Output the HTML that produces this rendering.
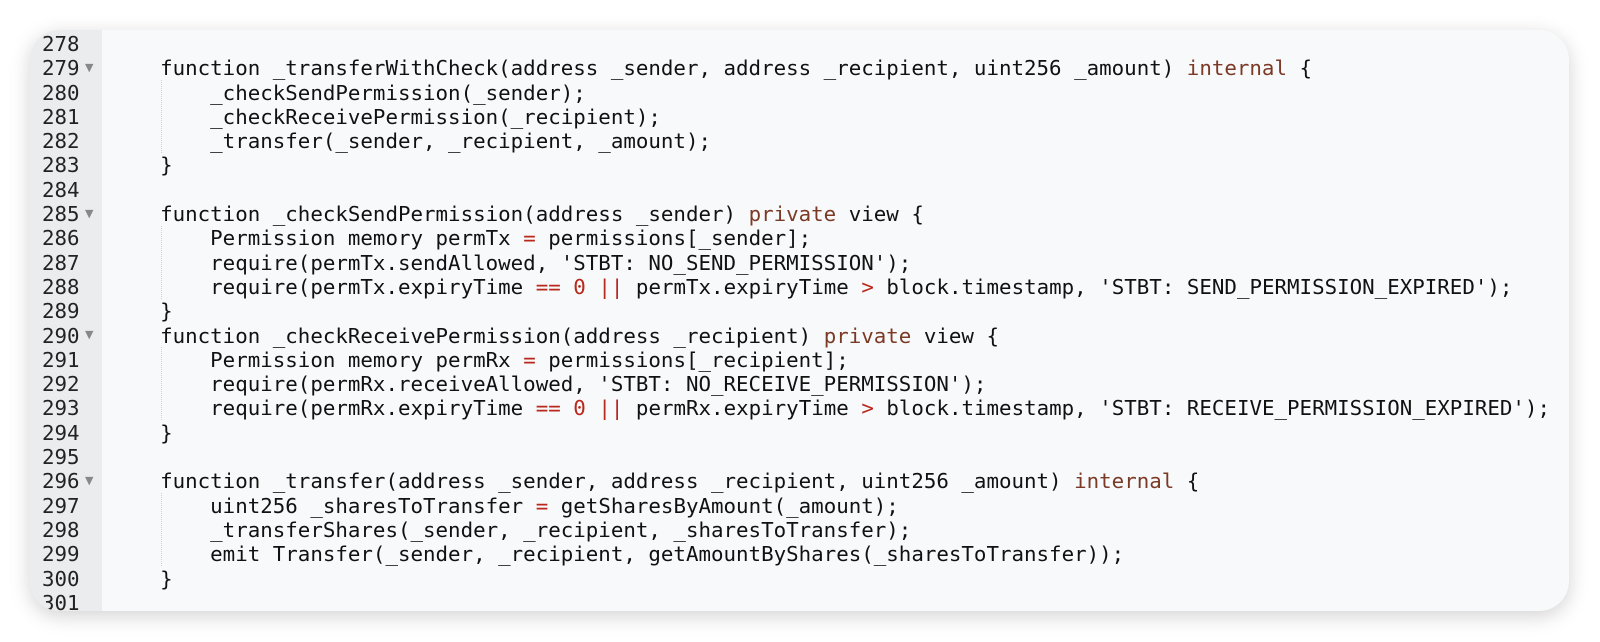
<!DOCTYPE html>
<html><head><meta charset="utf-8"><style>
html,body{margin:0;padding:0;background:#fff;width:1600px;height:642px;overflow:hidden}
.card{position:absolute;left:30px;top:30px;width:1539px;height:581px;border-radius:30px;background:#f8f9fa;overflow:hidden;box-shadow:0 5px 20px rgba(0,0,0,0.18)}
.gut{position:absolute;left:0;top:0;width:72px;height:100%;background:#ebecee}
.ln,.cd{position:absolute;font-family:"DejaVu Sans Mono",monospace;font-size:20.8px;line-height:24.3px;white-space:pre;color:#111}
.ln{left:12px;top:2px;color:#222}
.cd{left:80px;top:2px}
.k{color:#7b3a26}.r{color:#b8281c}
.f{color:#888;font-size:11px;position:absolute;left:55px;font-family:"DejaVu Sans",sans-serif}
.g{position:absolute;left:131px;width:0;border-left:1px dotted #d6d0c0}
</style></head><body>
<div class="card">
<div class="gut"></div>
<div class="ln">278
279
280
281
282
283
284
285
286
287
288
289
290
291
292
293
294
295
296
297
298
299
300
301</div>
<span class="f" style="top:31px">▼</span>
<span class="f" style="top:177px">▼</span>
<span class="f" style="top:298px">▼</span>
<span class="f" style="top:444px">▼</span>
<div class="g" style="top:50px;height:73px"></div>
<div class="g" style="top:196px;height:73px"></div>
<div class="g" style="top:317px;height:73px"></div>
<div class="g" style="top:463px;height:73px"></div>
<div class="cd">
    function _transferWithCheck(address _sender, address _recipient, uint256 _amount) <span class="k">internal</span> {
        _checkSendPermission(_sender);
        _checkReceivePermission(_recipient);
        _transfer(_sender, _recipient, _amount);
    }

    function _checkSendPermission(address _sender) <span class="k">private</span> view {
        Permission memory permTx <span class="r">=</span> permissions[_sender];
        require(permTx.sendAllowed, 'STBT: NO_SEND_PERMISSION');
        require(permTx.expiryTime <span class="r">==</span> <span class="r">0</span> <span class="r">||</span> permTx.expiryTime <span class="r">&gt;</span> block.timestamp, 'STBT: SEND_PERMISSION_EXPIRED');
    }
    function _checkReceivePermission(address _recipient) <span class="k">private</span> view {
        Permission memory permRx <span class="r">=</span> permissions[_recipient];
        require(permRx.receiveAllowed, 'STBT: NO_RECEIVE_PERMISSION');
        require(permRx.expiryTime <span class="r">==</span> <span class="r">0</span> <span class="r">||</span> permRx.expiryTime <span class="r">&gt;</span> block.timestamp, 'STBT: RECEIVE_PERMISSION_EXPIRED');
    }

    function _transfer(address _sender, address _recipient, uint256 _amount) <span class="k">internal</span> {
        uint256 _sharesToTransfer <span class="r">=</span> getSharesByAmount(_amount);
        _transferShares(_sender, _recipient, _sharesToTransfer);
        emit Transfer(_sender, _recipient, getAmountByShares(_sharesToTransfer));
    }
</div>
</div>
</body></html>
